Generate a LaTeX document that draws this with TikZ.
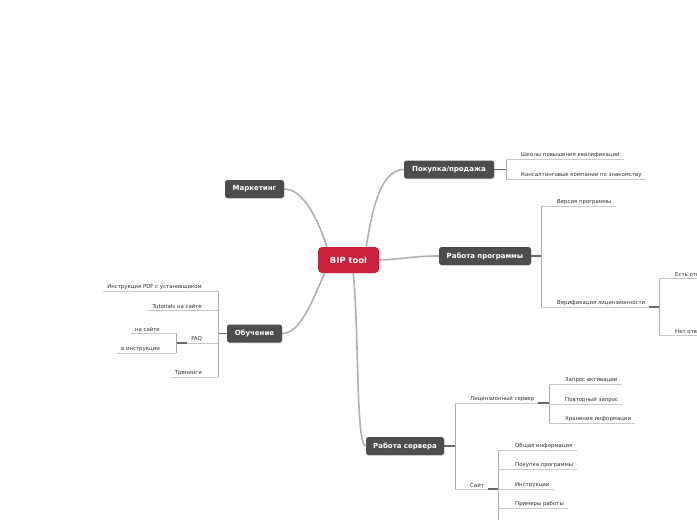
\documentclass[tikz,border=0pt]{standalone}
\usepackage{fontspec}
\setmainfont{DejaVu Sans}
\usetikzlibrary{shadows}

\definecolor{rootred}{RGB}{200,32,58}
\definecolor{topicgray}{RGB}{77,77,77}
\definecolor{branchgray}{RGB}{176,176,176}
\definecolor{bargray}{RGB}{170,170,170}
\definecolor{linegray}{RGB}{200,200,200}
\definecolor{jointgray}{RGB}{105,105,105}
\definecolor{leaftext}{RGB}{45,45,45}

\begin{document}
\begin{tikzpicture}[x=1pt,y=-1pt,
  topic/.style={rectangle, rounded corners=2.5pt, fill=topicgray, text=white,
    font=\bfseries\fontsize{7}{8}\selectfont, minimum height=18pt, inner xsep=4pt,
    drop shadow={opacity=0.25, shadow xshift=0.6pt, shadow yshift=-0.8pt}},
  rootbox/.style={rectangle, rounded corners=4pt, fill=rootred, text=white,
    font=\bfseries\fontsize{8.4}{10}\selectfont, minimum height=26pt, minimum width=61pt},
  leaf/.style={inner xsep=0pt, inner ysep=1.4pt, text=leaftext,
    font=\fontsize{5.4}{6}\selectfont},
  leafline/.style={draw=linegray, line width=0.8pt},
  bar/.style={draw=bargray, line width=1pt},
  joint/.style={draw=jointgray, line width=1.6pt},
  branch/.style={draw=branchgray, line width=1.6pt}
]
\useasboundingbox (0,0) rectangle (697,520);

% Root and main topics
\node[rootbox] (bip) at (348.5,260) {BIP tool};
\node[topic, minimum width=59pt] (mkt) at (254.5,189) {Маркетинг};
\node[topic, minimum width=90pt] (buy) at (449,169.5) {Покупка/продажа};
\node[topic, minimum width=92pt] (prog) at (485,256) {Работа программы};
\node[topic, minimum width=55pt] (learn) at (254.5,333.5) {Обучение};
\node[topic, minimum width=78pt] (srv) at (405,446) {Работа сервера};

% Branches from the root
\draw[branch] ([xshift=9pt]bip.north west) .. controls +(-8,-25) and +(20,0) .. (mkt.east);
\draw[branch] ([xshift=-13pt]bip.north east) .. controls +(5,-30) and +(-25,0) .. (buy.west);
\draw[branch] (bip.east) .. controls +(25,-1) and +(-25,0) .. (prog.west);
\draw[branch] ([xshift=7pt]bip.south west) .. controls +(-10,20) and +(20,0) .. (learn.east);
\draw[branch] ([xshift=-26pt]bip.south east) .. controls +(6,60) and +(-10,0) .. (srv.west);

% Покупка/продажа
\coordinate (buyj) at (506,169.5);
\draw[joint] (buy.east) -- (buyj);
\draw[bar] (506,159) -- (506,179);
\foreach \n/\y/\t in {buy1/159/{Школы повышения квалификации},
                      buy2/179/{Консалтинговые компании по знакомству}} {
  \node[leaf, anchor=south west] (\n) at (521,\y) {\t};
  \draw[leafline] (506,\y) -- ([xshift=4pt]\n.south east);
}

% Работа программы
\coordinate (progj) at (541,256);
\draw[joint] (prog.east) -- (progj);
\draw[bar] (541,206) -- (541,307);
\foreach \n/\y/\t in {ver/206/{Версия программы},
                      lic/307/{Верификация лицензионности}} {
  \node[leaf, anchor=south west] (\n) at (557,\y) {\t};
  \draw[leafline] (541,\y) -- ([xshift=4pt]\n.south east);
}
\coordinate (licj) at (659,307);
\draw[joint] ([xshift=4pt]lic.south east) -- (licj);
\draw[bar] (659,278) -- (659,335);
\foreach \n/\y/\t in {yes/278/{Есть отв}, no/335/{Нет отв}} {
  \node[leaf, anchor=south west] (\n) at (675,\y) {\t};
  \draw[leafline] (659,\y) -- (700,\y);
}

% Обучение
\coordinate (learnj) at (218,333.5);
\draw[joint] (learn.west) -- (learnj);
\draw[bar] (218,291) -- (218,377);
\foreach \n/\y/\t in {pdf/291/{Инструкция PDF с установщиком},
                      tut/310/{Tutorials на сайте},
                      faq/343/{FAQ},
                      trn/377/{Тренинги}} {
  \node[leaf, anchor=south east] (\n) at (202,\y) {\t};
  \draw[leafline] (218,\y) -- ([xshift=-4pt]\n.south west);
}
\coordinate (faqj) at (176,343);
\draw[joint] ([xshift=-4pt]faq.south west) -- (faqj);
\draw[bar] (176,333) -- (176,353);
\foreach \n/\y/\t in {fsite/333/{на сайте}, fman/353/{в инструкции}} {
  \node[leaf, anchor=south east] (\n) at (160,\y) {\t};
  \draw[leafline] (176,\y) -- ([xshift=-4pt]\n.south west);
}

% Работа сервера
\coordinate (srvj) at (455,446);
\draw[joint] (srv.east) -- (srvj);
\draw[bar] (455,403) -- (455,489);
\foreach \n/\y/\t in {lsrv/403/{Лицензионный сервер}, site/489/{Сайт}} {
  \node[leaf, anchor=south west] (\n) at (470,\y) {\t};
  \draw[leafline] (455,\y) -- ([xshift=4pt]\n.south east);
}
\coordinate (lsrvj) at (549,403);
\draw[joint] ([xshift=4pt]lsrv.south east) -- (lsrvj);
\draw[bar] (549,384) -- (549,423);
\foreach \n/\y/\t in {act/384/{Запрос активации},
                      rep/404/{Повторный запрос},
                      keep/423/{Хранение информации}} {
  \node[leaf, anchor=south west] (\n) at (565,\y) {\t};
  \draw[leafline] (549,\y) -- ([xshift=4pt]\n.south east);
}
\coordinate (sitej) at (498,489);
\draw[joint] ([xshift=4pt]site.south east) -- (sitej);
\draw[bar] (498,450) -- (498,525);
\foreach \n/\y/\t in {info/450/{Общая информация},
                      shop/469/{Покупка программы},
                      man/489/{Инструкции},
                      demo/508/{Примеры работы}} {
  \node[leaf, anchor=south west] (\n) at (515,\y) {\t};
  \draw[leafline] (498,\y) -- ([xshift=4pt]\n.south east);
}

\end{tikzpicture}
\end{document}
